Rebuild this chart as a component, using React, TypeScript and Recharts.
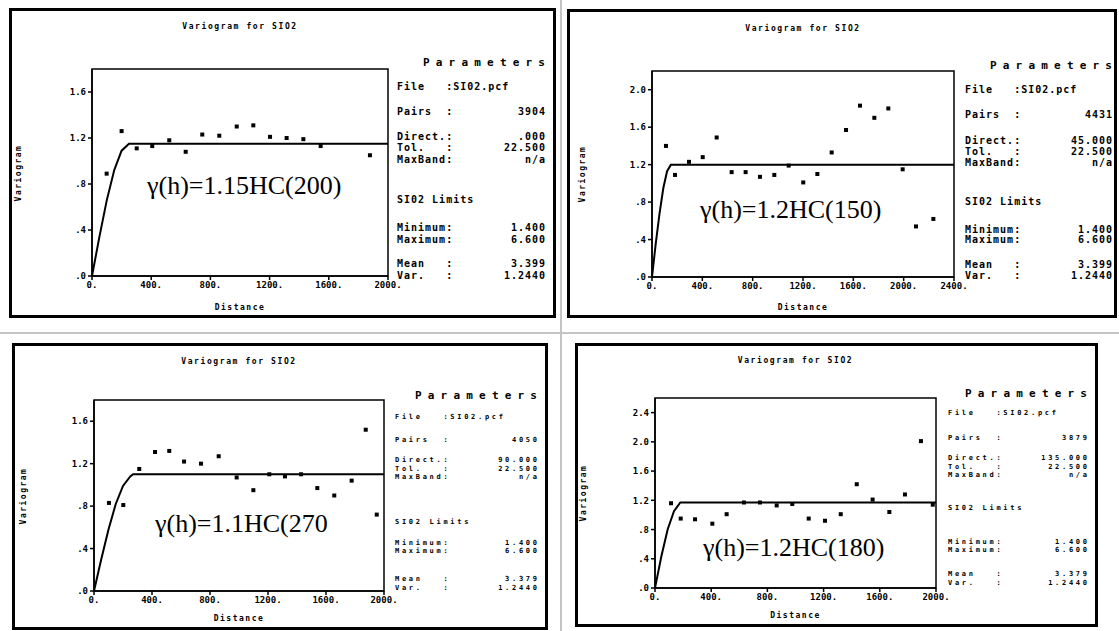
import React from "react";
import { ComposedChart, Scatter, Line, XAxis, YAxis, ReferenceArea } from "recharts";

// ---------- data ----------
const lags1 = [99, 200, 302, 407, 522, 633, 745, 860, 978, 1090, 1203, 1315, 1428, 1545, 1878];
const gamma1 = [0.89, 1.26, 1.11, 1.13, 1.18, 1.08, 1.23, 1.22, 1.3, 1.31, 1.21, 1.2, 1.19, 1.13, 1.05];
const modelLag1 = [0, 50, 100, 150, 200, 250, 2000];
const modelGamma1 = [0, 0.34, 0.66, 0.92, 1.09, 1.15, 1.15];

const lags2 = [111, 183, 294, 403, 514, 633, 744, 858, 972, 1086, 1202, 1314, 1428, 1542, 1653, 1767, 1878, 1992, 2098, 2236];
const gamma2 = [1.4, 1.09, 1.23, 1.28, 1.49, 1.12, 1.12, 1.07, 1.09, 1.19, 1.01, 1.1, 1.33, 1.57, 1.83, 1.7, 1.8, 1.15, 0.54, 0.62];
const modelLag2 = [0, 30, 60, 90, 120, 150, 2400];
const modelGamma2 = [0, 0.36, 0.68, 0.95, 1.13, 1.2, 1.2];

const lags3 = [103, 202, 312, 421, 519, 621, 738, 860, 984, 1099, 1209, 1317, 1428, 1540, 1657, 1777, 1874, 1950];
const gamma3 = [0.83, 0.81, 1.15, 1.31, 1.32, 1.22, 1.2, 1.27, 1.07, 0.95, 1.1, 1.08, 1.1, 0.97, 0.9, 1.04, 1.52, 0.72];
const modelLag3 = [0, 50, 100, 150, 200, 250, 270, 2000];
const modelGamma3 = [0, 0.3, 0.58, 0.82, 0.99, 1.08, 1.1, 1.1];

const lags4 = [114, 183, 285, 408, 510, 633, 747, 866, 977, 1094, 1210, 1322, 1436, 1549, 1668, 1779, 1893, 1977];
const gamma4 = [1.16, 0.95, 0.94, 0.88, 1.01, 1.17, 1.17, 1.13, 1.15, 0.95, 0.92, 1.01, 1.42, 1.21, 1.04, 1.28, 2.01, 1.14];
const modelLag4 = [0, 45, 90, 135, 180, 2000];
const modelGamma4 = [0, 0.43, 0.8, 1.05, 1.17, 1.17];

const xTicks2000 = [0, 400, 800, 1200, 1600, 2000];
const xTicks2400 = [0, 400, 800, 1200, 1600, 2000, 2400];
const yTicks1 = [0, 0.4, 0.8, 1.2, 1.6];
const yTicks2 = [0, 0.4, 0.8, 1.2, 1.6, 2.0];
const yTicks4 = [0, 0.4, 0.8, 1.2, 1.6, 2.0, 2.4];

const equations = ["γ(h)=1.15HC(200)", "γ(h)=1.2HC(150)", "γ(h)=1.1HC(270", "γ(h)=1.2HC(180)"];
const pairs = ["3904", "4431", "4050", "3879"];
const directions = [".000", "45.000", "90.000", "135.000"];
const means = ["3.399", "3.399", "3.379", "3.379"];
const tolerance = "22.500";
const minimum = "1.400";
const maximum = "6.600";
const variance = "1.2440";

const title = "Variogram for SIO2";

const toPts = (xs: number[], ys: number[]) => xs.map((x, i) => ({ x, y: ys[i] }));

type Box = { l: number; t: number; r: number; b: number };

const mono = "'DejaVu Sans Mono', 'Liberation Mono', monospace";

const Square = (p: any) => <rect x={p.cx - 2} y={p.cy - 2} width={4} height={4} fill="#000" />;

const fmtY = (v: number) => {
  const s = v.toFixed(1);
  return s.startsWith("0") ? s.slice(1) : s;
};
const fmtX = (v: number) => `${v}.`;

type PanelProps = {
  box: Box;
  plot: Box;
  xMax: number;
  yMax: number;
  xTicks: number[];
  yTicks: number[];
  points: { x: number; y: number }[];
  model: { x: number; y: number }[];
  eq: string;
  eqLeft: number;
  eqMid: number;
  titleY: number;
  yLabelX: number;
  distY: number;
  paramLeft: number;
  paramRight: number;
  rowsY: number[];
  pFont: number;
  pSpacing: number;
  idx: number;
};

function Txt({ x, y, children, align = "left", style = {} }: any) {
  const tr = align === "left" ? "translate(0,-50%)" : align === "right" ? "translate(-100%,-50%)" : "translate(-50%,-50%)";
  return (
    <div
      style={{
        position: "absolute",
        left: x,
        top: y,
        transform: tr,
        whiteSpace: "pre",
        fontFamily: mono,
        fontWeight: "bold",
        fontSize: 10,
        lineHeight: 1,
        color: "#000",
        ...style,
      }}
    >
      {children}
    </div>
  );
}

function Panel(p: PanelProps) {
  const yW = 40,
    mT = 5,
    mR = 30,
    xH = 22;
  const pw = p.plot.r - p.plot.l;
  const ph = p.plot.b - p.plot.t;
  const tickStyle = { fontSize: 9, fontFamily: mono, fontWeight: "bold", fill: "#000" } as any;
  const midX = (p.plot.l + p.plot.r) / 2;
  const midY = (p.plot.t + p.plot.b) / 2;
  const r = p.rowsY;
  const L = p.paramLeft;
  const R = p.paramRight;
  const ps = { fontSize: p.pFont, letterSpacing: p.pSpacing };
  const Rv = R + p.pSpacing;
  return (
    <>
      <div
        style={{
          position: "absolute",
          left: p.box.l,
          top: p.box.t,
          width: p.box.r - p.box.l,
          height: p.box.b - p.box.t,
          border: "3px solid #000",
          boxSizing: "border-box",
        }}
      />
      <div style={{ position: "absolute", left: p.plot.l - yW, top: p.plot.t - mT }}>
        <ComposedChart width={pw + yW + mR} height={ph + mT + xH} margin={{ top: mT, right: mR, bottom: 0, left: 0 }}>
          <XAxis
            type="number"
            dataKey="x"
            domain={[0, p.xMax]}
            ticks={p.xTicks}
            tickFormatter={fmtX}
            height={xH}
            tick={tickStyle}
            tickSize={4}
            axisLine={{ stroke: "#000", strokeWidth: 1.5 }}
            tickLine={{ stroke: "#000", strokeWidth: 1.5 }}
            allowDataOverflow
            interval={0}
          />
          <YAxis
            type="number"
            dataKey="y"
            domain={[0, p.yMax]}
            ticks={p.yTicks}
            tickFormatter={fmtY}
            width={yW}
            tick={tickStyle}
            tickSize={4}
            axisLine={{ stroke: "#000", strokeWidth: 1.5 }}
            tickLine={{ stroke: "#000", strokeWidth: 1.5 }}
            allowDataOverflow
            interval={0}
          />
          <ReferenceArea x1={0} x2={p.xMax} y1={0} y2={p.yMax} fill="none" fillOpacity={0} stroke="#000" strokeWidth={1.5} />
          <Line data={p.model} dataKey="y" type="linear" stroke="#000" strokeWidth={2} dot={false} isAnimationActive={false} />
          <Scatter data={p.points} dataKey="y" shape={Square} isAnimationActive={false} />
        </ComposedChart>
      </div>
      <Txt x={midX} y={p.titleY} align="center" style={{ fontSize: 8, letterSpacing: 1.6 }}>
        {title}
      </Txt>
      <Txt x={midX} y={p.distY} align="center" style={{ fontSize: 8, letterSpacing: 1.5 }}>
        Distance
      </Txt>
      <div
        style={{
          position: "absolute",
          left: p.yLabelX,
          top: midY,
          transform: "translate(-50%,-50%) rotate(-90deg)",
          fontFamily: mono,
          fontWeight: "bold",
          fontSize: 8,
          letterSpacing: 1.5,
          whiteSpace: "pre",
        }}
      >
        Variogram
      </div>
      <div
        style={{
          position: "absolute",
          left: p.eqLeft,
          top: p.eqMid,
          transform: "translate(0,-50%)",
          fontFamily: "'Liberation Serif', 'DejaVu Serif', serif",
          fontSize: 26,
          lineHeight: "26px",
          whiteSpace: "pre",
          color: "#000",
        }}
      >
        {p.eq}
      </div>
      <Txt x={R + 6.2} y={r[0]} align="right" style={{ fontSize: 11, letterSpacing: 6.2 }}>
        Parameters
      </Txt>
      <Txt x={L} y={r[1]} style={ps}>{"File   :SI02.pcf"}</Txt>
      <Txt x={L} y={r[2]} style={ps}>{"Pairs  :"}</Txt>
      <Txt x={Rv} y={r[2]} align="right" style={ps}>{pairs[p.idx]}</Txt>
      <Txt x={L} y={r[3]} style={ps}>{"Direct.:"}</Txt>
      <Txt x={Rv} y={r[3]} align="right" style={ps}>{directions[p.idx]}</Txt>
      <Txt x={L} y={r[4]} style={ps}>{"Tol.   :"}</Txt>
      <Txt x={Rv} y={r[4]} align="right" style={ps}>{tolerance}</Txt>
      <Txt x={L} y={r[5]} style={ps}>{"MaxBand:"}</Txt>
      <Txt x={Rv} y={r[5]} align="right" style={ps}>n/a</Txt>
      <Txt x={L} y={r[6]} style={ps}>{"SI02 Limits"}</Txt>
      <Txt x={L} y={r[7]} style={ps}>{"Minimum:"}</Txt>
      <Txt x={Rv} y={r[7]} align="right" style={ps}>{minimum}</Txt>
      <Txt x={L} y={r[8]} style={ps}>{"Maximum:"}</Txt>
      <Txt x={Rv} y={r[8]} align="right" style={ps}>{maximum}</Txt>
      <Txt x={L} y={r[9]} style={ps}>{"Mean   :"}</Txt>
      <Txt x={Rv} y={r[9]} align="right" style={ps}>{means[p.idx]}</Txt>
      <Txt x={L} y={r[10]} style={ps}>{"Var.   :"}</Txt>
      <Txt x={Rv} y={r[10]} align="right" style={ps}>{variance}</Txt>
    </>
  );
}

export default function App() {
  return (
    <div
      style={{
        position: "absolute",
        left: 0,
        top: 0,
        width: 1119,
        height: 631,
        background: "#fff",
        overflow: "hidden",
      }}
    >
      <div style={{ position: "absolute", left: 0, top: 332, width: 1119, height: 2, background: "#c4c4c4" }} />
      <div style={{ position: "absolute", left: 560, top: 0, width: 2, height: 631, background: "#c4c4c4" }} />
      <Panel
        idx={0}
        box={{ l: 9, t: 8, r: 556, b: 318 }}
        plot={{ l: 92, t: 69, r: 388, b: 276 }}
        xMax={2000}
        yMax={1.8}
        xTicks={xTicks2000}
        yTicks={yTicks1}
        points={toPts(lags1, gamma1)}
        model={toPts(modelLag1, modelGamma1)}
        eq={equations[0]}
        eqLeft={147}
        eqMid={186}
        titleY={27}
        yLabelX={18}
        distY={308}
        paramLeft={397}
        paramRight={545}
        pFont={10}
        pSpacing={1}
        rowsY={[62, 87, 112, 137, 148, 160, 200, 228, 240, 264, 276]}
      />
      <Panel
        idx={1}
        box={{ l: 567, t: 9, r: 1117, b: 318 }}
        plot={{ l: 652, t: 71, r: 954, b: 277 }}
        xMax={2400}
        yMax={2.2}
        xTicks={xTicks2400}
        yTicks={yTicks2}
        points={toPts(lags2, gamma2)}
        model={toPts(modelLag2, modelGamma2)}
        eq={equations[1]}
        eqLeft={700}
        eqMid={210}
        titleY={29}
        yLabelX={582}
        distY={308}
        paramLeft={965}
        paramRight={1112}
        pFont={10}
        pSpacing={1}
        rowsY={[65, 90, 115, 141, 152, 163, 202, 230, 240, 265, 276]}
      />
      <Panel
        idx={2}
        box={{ l: 12, t: 343, r: 548, b: 630 }}
        plot={{ l: 94, t: 400, r: 384, b: 591 }}
        xMax={2000}
        yMax={1.8}
        xTicks={xTicks2000}
        yTicks={yTicks1}
        points={toPts(lags3, gamma3)}
        model={toPts(modelLag3, modelGamma3)}
        eq={equations[2]}
        eqLeft={155}
        eqMid={524}
        titleY={362}
        yLabelX={23}
        distY={619}
        paramLeft={395}
        paramRight={537}
        pFont={7}
        pSpacing={2.7}
        rowsY={[395, 417, 440, 460, 468.5, 477, 522, 542.5, 551, 579, 588]}
      />
      <Panel
        idx={3}
        box={{ l: 575, t: 343, r: 1098, b: 627 }}
        plot={{ l: 655, t: 398, r: 936, b: 588 }}
        xMax={2000}
        yMax={2.6}
        xTicks={xTicks2000}
        yTicks={yTicks4}
        points={toPts(lags4, gamma4)}
        model={toPts(modelLag4, modelGamma4)}
        eq={equations[3]}
        eqLeft={703}
        eqMid={548}
        titleY={361}
        yLabelX={583}
        distY={616}
        paramLeft={948}
        paramRight={1087}
        pFont={7}
        pSpacing={2.7}
        rowsY={[393, 413, 438, 458, 466.5, 475, 508, 541.5, 550, 574, 582.5]}
      />
    </div>
  );
}
